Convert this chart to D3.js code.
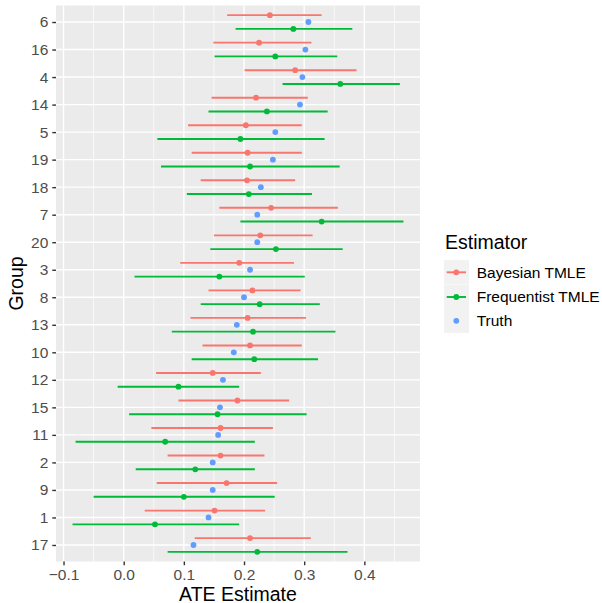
<!DOCTYPE html>
<html>
<head>
<meta charset="utf-8">
<script src="https://cdn.jsdelivr.net/npm/d3@7"></script>
<style>
  body { margin: 0; background: #fff; }
  svg text { font-family: "Liberation Sans", Arial, sans-serif; }
</style>
</head>
<body>
<div id="chart"></div>
<script>
// Groups, top to bottom as drawn
var groups = ["6", "16", "4", "14", "5", "19", "18", "7", "20", "3",
  "8", "13", "10", "12", "15", "11", "2", "9", "1", "17"];

// Bayesian TMLE: estimate, lower, upper
var bayesEst = [0.243, 0.225, 0.285, 0.220, 0.203, 0.206, 0.205, 0.245, 0.227, 0.192,
  0.214, 0.206, 0.210, 0.148, 0.189, 0.161, 0.161, 0.171, 0.151, 0.210];
var bayesLo = [0.172, 0.149, 0.201, 0.146, 0.107, 0.113, 0.128, 0.159, 0.150, 0.094,
  0.141, 0.111, 0.131, 0.054, 0.091, 0.046, 0.073, 0.055, 0.035, 0.118];
var bayesHi = [0.329, 0.312, 0.387, 0.306, 0.296, 0.296, 0.285, 0.356, 0.314, 0.283,
  0.294, 0.303, 0.296, 0.228, 0.275, 0.248, 0.234, 0.255, 0.235, 0.311];

// Frequentist TMLE: estimate, lower, upper
var freqEst = [0.282, 0.252, 0.360, 0.238, 0.194, 0.210, 0.208, 0.329, 0.253, 0.159,
  0.226, 0.215, 0.217, 0.091, 0.156, 0.069, 0.119, 0.100, 0.052, 0.222];
var freqLo = [0.186, 0.151, 0.264, 0.141, 0.056, 0.062, 0.105, 0.194, 0.144, 0.018,
  0.128, 0.080, 0.113, -0.010, 0.009, -0.080, 0.020, -0.050, -0.085, 0.073];
var freqHi = [0.380, 0.355, 0.459, 0.339, 0.334, 0.359, 0.313, 0.465, 0.364, 0.301,
  0.326, 0.352, 0.323, 0.192, 0.304, 0.218, 0.218, 0.251, 0.192, 0.372];

// Truth
var truth = [0.307, 0.302, 0.297, 0.293, 0.252, 0.248, 0.228, 0.222, 0.222, 0.210,
  0.200, 0.188, 0.183, 0.165, 0.160, 0.157, 0.148, 0.148, 0.141, 0.116];

var xTicks = [-0.1, 0.0, 0.1, 0.2, 0.3, 0.4];
var xMinor = [-0.05, 0.05, 0.15, 0.25, 0.35, 0.45];

var seriesNames = ["Bayesian TMLE", "Frequentist TMLE", "Truth"];
var colors = ["#F8766D", "#00BA38", "#619CFF"];

var W = 602, H = 603;
var panel = { left: 56, right: 420, top: 5.5, bottom: 561.5 };
var tickFont = "15.5px", titleFont = "19.5px";

var svg = d3.select("#chart").append("svg")
  .attr("width", W).attr("height", H);

// scales (ggplot-style 5% expansion on x, 0.6 units on discrete y)
var allVals = bayesLo.concat(bayesHi, freqLo, freqHi, truth);
var xmin = d3.min(allVals), xmax = d3.max(allVals);
var pad = (xmax - xmin) * 0.05;
var x = d3.scaleLinear().domain([xmin - pad, xmax + pad])
  .range([panel.left, panel.right]);
var y = d3.scalePoint().domain(groups)
  .range([panel.top, panel.bottom]).padding(0.6);
var step = y.step();

// panel background
svg.append("rect")
  .attr("x", panel.left).attr("y", panel.top)
  .attr("width", panel.right - panel.left)
  .attr("height", panel.bottom - panel.top)
  .attr("fill", "#EBEBEB");

var grid = svg.append("g");
grid.selectAll(".minor").data(xMinor).enter().append("line")
  .attr("x1", function (d) { return x(d); }).attr("x2", function (d) { return x(d); })
  .attr("y1", panel.top).attr("y2", panel.bottom)
  .attr("stroke", "#fff").attr("stroke-width", 0.7);
grid.selectAll(".major").data(xTicks).enter().append("line")
  .attr("x1", function (d) { return x(d); }).attr("x2", function (d) { return x(d); })
  .attr("y1", panel.top).attr("y2", panel.bottom)
  .attr("stroke", "#fff").attr("stroke-width", 1.4);
grid.selectAll(".hmajor").data(groups).enter().append("line")
  .attr("x1", panel.left).attr("x2", panel.right)
  .attr("y1", function (d) { return y(d); }).attr("y2", function (d) { return y(d); })
  .attr("stroke", "#fff").attr("stroke-width", 1.4);

// series
var series = [
  { est: bayesEst, lo: bayesLo, hi: bayesHi, off: -0.25 },
  { est: freqEst, lo: freqLo, hi: freqHi, off: 0.25 },
  { est: truth, lo: null, hi: null, off: 0 }
];

series.forEach(function (s, si) {
  var g = svg.append("g");
  var rows = groups.map(function (grp, i) {
    return { grp: grp, est: s.est[i], lo: s.lo ? s.lo[i] : null, hi: s.hi ? s.hi[i] : null };
  });
  if (s.lo) {
    g.selectAll("line").data(rows).enter().append("line")
      .attr("x1", function (d) { return x(d.lo); })
      .attr("x2", function (d) { return x(d.hi); })
      .attr("y1", function (d) { return y(d.grp) + s.off * step; })
      .attr("y2", function (d) { return y(d.grp) + s.off * step; })
      .attr("stroke", colors[si]).attr("stroke-width", 1.9);
  }
  g.selectAll("circle").data(rows).enter().append("circle")
    .attr("cx", function (d) { return x(d.est); })
    .attr("cy", function (d) { return y(d.grp) + s.off * step; })
    .attr("r", 2.9)
    .attr("fill", colors[si]);
});

// axes
var xAxis = svg.append("g")
  .attr("transform", "translate(0," + panel.bottom + ")")
  .call(d3.axisBottom(x).tickValues(xTicks).tickSize(3.7).tickPadding(3.6)
    .tickFormat(function (d) { return d3.format(".1f")(d).replace("-", "\u2212"); }));
xAxis.select(".domain").remove();
xAxis.selectAll(".tick line").attr("stroke", "#333333").attr("stroke-width", 1.4);
xAxis.selectAll(".tick text").attr("fill", "#4D4D4D").attr("font-size", tickFont);

var yAxis = svg.append("g")
  .attr("transform", "translate(" + panel.left + ",0)")
  .call(d3.axisLeft(y).tickSize(3.7).tickPadding(4));
yAxis.select(".domain").remove();
yAxis.selectAll(".tick line").attr("stroke", "#333333").attr("stroke-width", 1.4);
yAxis.selectAll(".tick text").attr("fill", "#4D4D4D").attr("font-size", tickFont);

// axis titles
svg.append("text")
  .attr("x", (panel.left + panel.right) / 2).attr("y", 600.5)
  .attr("text-anchor", "middle").attr("font-size", titleFont).attr("fill", "#000")
  .text("ATE Estimate");
svg.append("text")
  .attr("transform", "translate(23," + (panel.top + panel.bottom) / 2 + ") rotate(-90)")
  .attr("text-anchor", "middle").attr("font-size", titleFont).attr("fill", "#000")
  .text("Group");

// legend
var leg = svg.append("g").attr("transform", "translate(444,0)");
leg.append("text").attr("x", 1).attr("y", 249)
  .attr("font-size", titleFont).attr("fill", "#000").text("Estimator");
var keyY = [272.3, 297, 320.8];
seriesNames.forEach(function (name, i) {
  leg.append("rect").attr("x", 0).attr("y", keyY[i] - 12.2)
    .attr("width", 25).attr("height", 24.4).attr("fill", "#F2F2F2");
  if (i < 2) {
    leg.append("line").attr("x1", 2.7).attr("x2", 22)
      .attr("y1", keyY[i]).attr("y2", keyY[i])
      .attr("stroke", colors[i]).attr("stroke-width", 1.9);
  }
  leg.append("circle").attr("cx", 12.3).attr("cy", keyY[i]).attr("r", 2.9)
    .attr("fill", colors[i]);
  leg.append("text").attr("x", 32.7).attr("y", keyY[i]).attr("dy", "0.35em")
    .attr("font-size", tickFont).attr("fill", "#000").text(name);
});
</script>
</body>
</html>
